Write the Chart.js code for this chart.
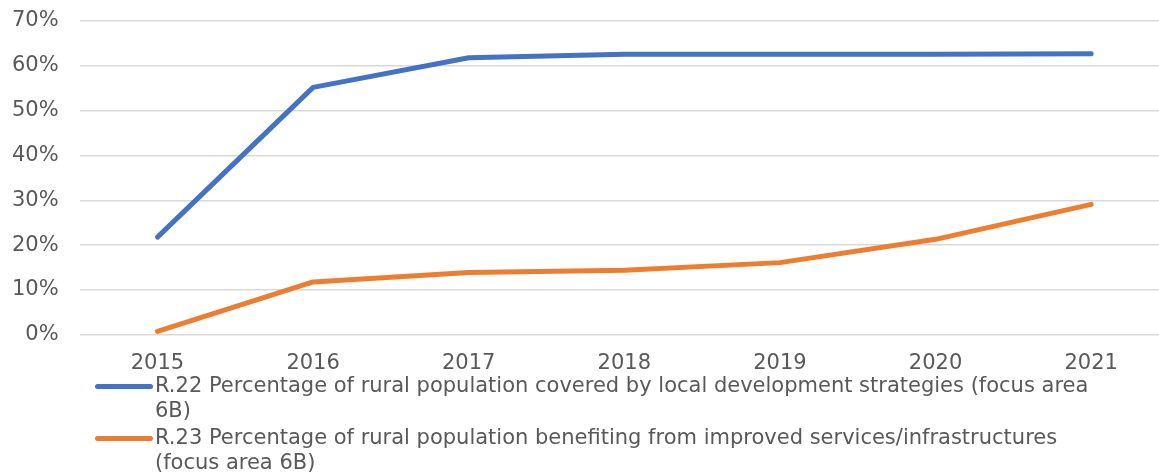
<!DOCTYPE html>
<html>
<head>
<meta charset="utf-8">
<script src="https://cdn.jsdelivr.net/npm/chart.js@4/dist/chart.umd.min.js"></script>
<style>
  html, body { margin: 0; padding: 0; background: #fff; overflow: hidden; width: 1159px; height: 475px; }
  #wrap { position: absolute; left: 0; top: 0; width: 1170px; height: 375px; }
  #legend { position: absolute; left: 0; top: 373px; width: 1159px; font-family: "DejaVu Sans", Verdana, sans-serif; font-size: 21px; color: #595959; }
  .item { position: relative; padding-left: 155px; line-height: 25px; width: 1000px; white-space: nowrap; }
  .item + .item { margin-top: 2px; }
  .swatch { position: absolute; left: 95px; top: 11px; width: 58px; height: 5px; border-radius: 3px; }
</style>
</head>
<body>
<div id="wrap"><canvas id="c"></canvas></div>
<div id="legend"></div>
<script>
const years = ["2015", "2016", "2017", "2018", "2019", "2020", "2021"];
const seriesNames = [
  "R.22 Percentage of rural population covered by local development strategies (focus area\n6B)",
  "R.23 Percentage of rural population benefiting from improved services/infrastructures\n(focus area 6B)"
];
const r22Values = [21.8, 55.2, 61.8, 62.6, 62.6, 62.6, 62.7];
const r23Values = [0.75, 11.8, 13.9, 14.4, 16.1, 21.3, 29.1];
const yTicks = [0, 10, 20, 30, 40, 50, 60, 70];
const colors = ["#4472C4", "#ED7D31"];

const font = { family: "'DejaVu Sans', Verdana, sans-serif", size: 21 };
const chart = new Chart(document.getElementById("c"), {
  type: "line",
  data: {
    labels: years,
    datasets: [
      { label: seriesNames[0], data: r22Values, borderColor: colors[0], backgroundColor: colors[0] },
      { label: seriesNames[1], data: r23Values, borderColor: colors[1], backgroundColor: colors[1] }
    ].map(d => Object.assign(d, { borderWidth: 5, pointRadius: 0, tension: 0, borderCapStyle: "round", borderJoinStyle: "round", fill: false }))
  },
  options: {
    responsive: true,
    maintainAspectRatio: false,
    animation: false,
    layout: { padding: { left: -9, right: 1, top: 21, bottom: -17 } },
    plugins: { legend: { display: false }, tooltip: { enabled: false } },
    scales: {
      x: {
        offset: true,
        grid: { display: false, drawTicks: false },
        border: { display: false },
        ticks: { font: font, color: "#595959", padding: 16, maxRotation: 0 }
      },
      y: {
        min: 0, max: 70,
        afterBuildTicks: axis => { axis.ticks = yTicks.map(v => ({ value: v })); },
        afterFit: axis => { axis.paddingTop = 0; axis.paddingBottom = 0; },
        grid: { color: "#d9d9d9", lineWidth: 1.5, drawTicks: false },
        border: { display: false },
        ticks: { font: font, color: "#595959", padding: 21, callback: v => v + "%" }
      }
    }
  }
});

const legend = document.getElementById("legend");
chart.data.datasets.forEach((ds, i) => {
  const item = document.createElement("div");
  item.className = "item";
  const sw = document.createElement("span");
  sw.className = "swatch";
  sw.style.background = ds.borderColor;
  item.appendChild(sw);
  ds.label.split("\n").forEach((line, j) => {
    if (j > 0) item.appendChild(document.createElement("br"));
    item.appendChild(document.createTextNode(line));
  });
  legend.appendChild(item);
});
</script>
</body>
</html>
